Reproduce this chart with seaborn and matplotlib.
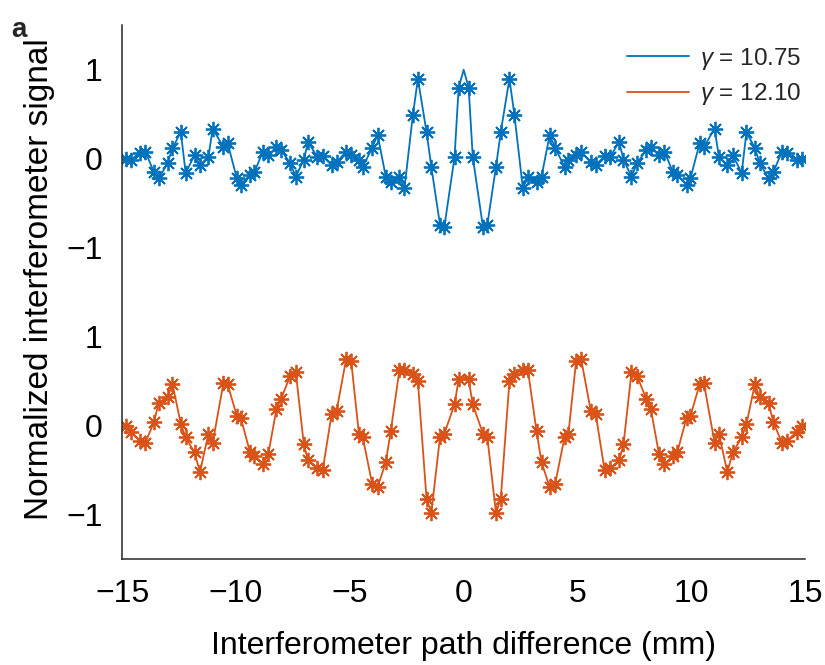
import numpy as np
import pandas as pd
import matplotlib
matplotlib.use("Agg")
import matplotlib.pyplot as plt
import seaborn as sns
from matplotlib.lines import Line2D

# sample positions (mm), shared by both traces
path_mm = [
    -14.84, -14.62, -14.20, -13.98, -13.60, -13.39, -13.00, -12.79, -12.42, -12.21,
    -11.82, -11.58, -11.21, -11.02, -10.55, -10.37, -9.96, -9.79, -9.38, -9.19,
    -8.82, -8.58, -8.22, -8.02, -7.62, -7.37, -7.02, -6.83, -6.43, -6.19,
    -5.80, -5.58, -5.16, -4.94, -4.60, -4.43, -4.02, -3.78, -3.42, -3.20,
    -2.82, -2.60, -2.23, -2.01, -1.63, -1.42, -1.04, -0.85, -0.40, -0.22,
    0.22, 0.40, 0.85, 1.04, 1.42, 1.63, 2.01, 2.23, 2.60, 2.82,
    3.20, 3.42, 3.78, 4.02, 4.43, 4.60, 4.94, 5.16, 5.58, 5.80,
    6.19, 6.43, 6.83, 7.02, 7.37, 7.62, 8.02, 8.22, 8.58, 8.82,
    9.19, 9.38, 9.79, 9.96, 10.37, 10.55, 11.02, 11.21, 11.58, 11.82,
    12.21, 12.42, 12.79, 13.00, 13.39, 13.60, 13.98, 14.20, 14.62, 14.84,
]

signal_1075 = [
    0.00, -0.01, 0.06, 0.08, -0.15, -0.22, -0.05, 0.12, 0.30, -0.16,
    0.04, -0.07, 0.02, 0.34, 0.13, 0.18, -0.22, -0.29, -0.18, -0.15,
    0.08, 0.04, 0.13, 0.10, -0.05, -0.20, -0.01, 0.19, 0.02, 0.03,
    -0.07, -0.04, 0.08, 0.04, -0.01, -0.09, 0.12, 0.27, -0.20, -0.26,
    -0.21, -0.33, 0.49, 0.90, 0.30, -0.09, -0.74, -0.77, 0.02, 0.80,
    0.80, 0.02, -0.77, -0.74, -0.09, 0.30, 0.90, 0.49, -0.33, -0.21,
    -0.26, -0.20, 0.27, 0.12, -0.09, -0.01, 0.04, 0.08, -0.04, -0.07,
    0.03, 0.02, 0.19, -0.01, -0.20, -0.05, 0.10, 0.13, 0.04, 0.08,
    -0.15, -0.18, -0.29, -0.22, 0.18, 0.13, 0.34, 0.02, -0.07, 0.04,
    -0.16, 0.30, 0.12, -0.05, -0.22, -0.15, 0.08, 0.06, -0.01, 0.00,
]

signal_1210 = [
    0.00, -0.07, -0.17, -0.19, 0.04, 0.26, 0.32, 0.47, 0.02, -0.13,
    -0.30, -0.52, -0.09, -0.19, 0.48, 0.47, 0.11, 0.09, -0.30, -0.34,
    -0.43, -0.32, 0.19, 0.30, 0.56, 0.60, -0.21, -0.39, -0.48, -0.50,
    0.13, 0.17, 0.75, 0.73, -0.09, -0.13, -0.65, -0.69, -0.41, -0.06,
    0.63, 0.63, 0.58, 0.50, -0.82, -0.98, -0.13, -0.09, 0.24, 0.52,
    0.52, 0.24, -0.09, -0.13, -0.98, -0.82, 0.50, 0.58, 0.63, 0.63,
    -0.06, -0.41, -0.69, -0.65, -0.13, -0.09, 0.73, 0.75, 0.17, 0.13,
    -0.50, -0.48, -0.39, -0.21, 0.60, 0.56, 0.30, 0.19, -0.32, -0.43,
    -0.34, -0.30, 0.09, 0.11, 0.47, 0.48, -0.19, -0.09, -0.52, -0.30,
    -0.13, 0.02, 0.47, 0.32, 0.26, 0.04, -0.19, -0.17, -0.07, 0.00,
]

# the drawn curve passes through a central maximum between the samples
centre_x = [0.0]
centre_1075 = [1.00]
centre_1210 = [0.55]

labels = ["$\\gamma$ = 10.75", "$\\gamma$ = 12.10"]
offsets = [0.0, -3.0]
colors = ["#0072BD", "#D95319"]

ytick_pos = [1, 0, -1, -2, -3, -4]
ytick_lab = ["1", "0", "\u22121", "1", "0", "\u22121"]
xtick_pos = [-15, -10, -5, 0, 5, 10, 15]

sns.set_style("white")
plt.rcParams["font.family"] = ["Liberation Sans", "DejaVu Sans"]
plt.rcParams["mathtext.fontset"] = "custom"
plt.rcParams["mathtext.it"] = "Liberation Sans:italic"
plt.rcParams["mathtext.rm"] = "Liberation Sans"

markers = pd.DataFrame({
    "x": path_mm * 2,
    "y": [v + offsets[0] for v in signal_1075] + [v + offsets[1] for v in signal_1210],
    "series": [labels[0]] * len(path_mm) + [labels[1]] * len(path_mm),
})
curve = pd.concat([
    markers,
    pd.DataFrame({"x": centre_x, "y": [centre_1075[0] + offsets[0]], "series": [labels[0]]}),
    pd.DataFrame({"x": centre_x, "y": [centre_1210[0] + offsets[1]], "series": [labels[1]]}),
], ignore_index=True).sort_values("x")

fig = plt.figure(figsize=(8.25, 6.65), dpi=100)
ax = fig.add_axes([0.148, 0.159, 0.828, 0.803])

palette = dict(zip(labels, colors))
sns.lineplot(data=curve, x="x", y="y", hue="series", palette=palette,
             estimator=None, sort=True, lw=1.3, legend=False, ax=ax)
for lab in labels:
    sub = markers[markers["series"] == lab]
    ax.plot(sub["x"], sub["y"], ls="none", marker=(8, 2, 0), ms=11,
            mew=1.3, color=palette[lab])

ax.set_xlim(-15, 15)
ax.set_ylim(-4.5, 1.5)
ax.set_xticks(xtick_pos)
ax.set_yticks(ytick_pos)
ax.set_yticklabels(ytick_lab)
ax.tick_params(direction="in", length=10, width=1.1, colors="#262626",
               labelsize=23, pad=14, labelcolor="black")
for s in ["top", "right"]:
    ax.spines[s].set_visible(False)
for s in ["left", "bottom"]:
    ax.spines[s].set_color("#262626")
    ax.spines[s].set_linewidth(1.1)

ax.set_xlabel("Interferometer path difference (mm)", fontsize=23,
              labelpad=16, color="black")
ax.set_ylabel("Normalized interferometer signal", fontsize=24, color="black")
ax.yaxis.set_label_coords(-0.098, 0.524)

handles = [Line2D([0], [0], color=c, lw=1.3) for c in colors]
ax.legend(handles, labels, loc="upper right", frameon=False, fontsize=17.5,
          handlelength=2.55, handletextpad=0.45, labelspacing=0.4,
          bbox_to_anchor=(1.026, 1.003))

fig.text(0.014, 0.975, "a", fontsize=20, fontweight="bold", va="top")

fig.savefig("out.png", dpi=100)
